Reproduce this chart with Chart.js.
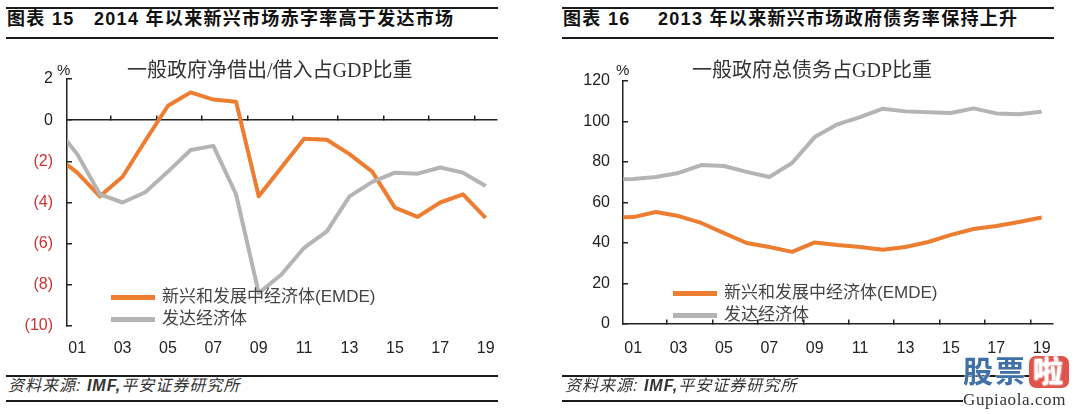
<!DOCTYPE html>
<html>
<head>
<meta charset="utf-8">
<script src="https://cdn.jsdelivr.net/npm/chart.js@4.4.1/dist/chart.umd.min.js"></script>
<style>
  html, body { margin: 0; padding: 0; background: #fff; }
  body { width: 1080px; height: 414px; position: relative; overflow: hidden;
         font-family: "Liberation Sans", "Noto Sans CJK SC", sans-serif; color: #222; }
  canvas { position: absolute; }
  .rule { position: absolute; background: #1b1b1b; }
  .head { position: absolute; top: 8px; line-height: 22px; font-size: 18px; font-weight: bold;
          letter-spacing: 1.3px; color: #111; white-space: nowrap; }
  .sub { position: absolute; top: 58px; line-height: 24px; font-size: 20px; color: #333; white-space: nowrap;
         font-family: "Liberation Serif", "Noto Sans CJK SC", serif; }
  .pct { position: absolute; top: 61px; line-height: 18px; font-size: 15px; color: #222; }
  .src { position: absolute; top: 377px; line-height: 17px; font-size: 16px; font-style: italic;
         letter-spacing: 1px; color: #333; white-space: nowrap; }
  .src b { font-weight: bold; }
  .leg { position: absolute; font-size: 17px; color: #444; white-space: nowrap; }
  .leg div { position: relative; height: 22px; line-height: 22px; }
  .leg span.sw { position: absolute; top: 9px; height: 5px; }
  .leg span.tx { position: absolute; }
  .wm { position: absolute; left: 963px; top: 356px; width: 117px; }
  .wm .big { font-size: 30px; font-weight: bold; color: #3f70a8; line-height: 32px; height: 34px;
             text-shadow: 0 0 2px #fff, 0 0 2px #fff; letter-spacing: 2px; white-space: nowrap; }
  .wm .la { display: inline-block; background: #e0534b; color: #fff; border-radius: 7px;
            padding: 0 4px; margin-left: 2px; line-height: 32px; }
  .wm .url { font-family: "Liberation Serif", serif; font-size: 17px; color: #333; line-height: 20px;
             letter-spacing: 0.6px; background: #fff; white-space: nowrap; }
</style>
</head>
<body>

<!-- 左图 -->
<div class="rule" style="left:6px;top:7px;width:492px;height:2px"></div>
<div class="head" style="left:7px">图表 15</div>
<div class="head" style="left:94px">2014 年以来新兴市场赤字率高于发达市场</div>
<div class="rule" style="left:6px;top:37px;width:492px;height:1.5px"></div>
<canvas id="balance" width="540" height="330" style="left:0;top:40px"></canvas>
<div class="sub" style="left:127px">一般政府净借出/借入占GDP比重</div>
<div class="pct" style="left:57px">%</div>
<div class="leg" id="legLeft" style="left:111px;top:286px"></div>
<div class="rule" style="left:6px;top:375px;width:492px;height:2px"></div>
<div class="src" style="left:8px">资料来源: <b>IMF,</b>平安证券研究所</div>
<div class="rule" style="left:6px;top:400px;width:492px;height:2px"></div>

<!-- 右图 -->
<div class="rule" style="left:562px;top:7px;width:492px;height:2px"></div>
<div class="head" style="left:563px">图表 16</div>
<div class="head" style="left:658px">2013 年以来新兴市场政府债务率保持上升</div>
<div class="rule" style="left:562px;top:37px;width:492px;height:1.5px"></div>
<canvas id="debt" width="540" height="330" style="left:540px;top:40px"></canvas>
<div class="sub" style="left:692px">一般政府总债务占GDP比重</div>
<div class="pct" style="left:616px">%</div>
<div class="leg" id="legRight" style="left:673px;top:282px"></div>
<div class="rule" style="left:562px;top:375px;width:492px;height:2px"></div>
<div class="src" style="left:565px">资料来源: <b>IMF,</b>平安证券研究所</div>
<div class="rule" style="left:562px;top:400px;width:492px;height:2px"></div>

<div class="wm">
  <div class="big">股票<span class="la">啦</span></div>
  <div class="url">Gupiaola.com</div>
</div>

<script>
// 年份 (2000-2019)
const years = [2000, 2001, 2002, 2003, 2004, 2005, 2006, 2007, 2008, 2009,
               2010, 2011, 2012, 2013, 2014, 2015, 2016, 2017, 2018, 2019];
const xLabelYears = [2001, 2003, 2005, 2007, 2009, 2011, 2013, 2015, 2017, 2019];
const seriesNames = ["新兴和发展中经济体(EMDE)", "发达经济体"];

// 图表15：一般政府净借出/借入占GDP比重 (%)
const balanceEMDE = [-1.7, -2.55, -3.7, -2.75, -1.0, 0.7, 1.35, 1.0, 0.9, -3.7,
                     -2.3, -0.9, -0.95, -1.65, -2.5, -4.25, -4.7, -4.0, -3.6, -4.75];
const balanceAdv  = [-0.25, -1.65, -3.6, -4.0, -3.5, -2.5, -1.45, -1.25, -3.6, -8.4,
                     -7.5, -6.2, -5.4, -3.7, -3.0, -2.55, -2.6, -2.3, -2.55, -3.2];

// 图表16：一般政府总债务占GDP比重 (%)
const debtEMDE = [52.5, 52.8, 55.3, 53.3, 49.9, 44.9, 40.0, 38.0, 35.6, 40.3,
                  39.0, 38.0, 36.7, 38.0, 40.5, 44.0, 46.9, 48.4, 50.4, 52.6];
const debtAdv  = [71.3, 71.6, 72.6, 74.6, 78.5, 78.0, 75.1, 72.6, 79.5, 92.3,
                  98.6, 102.2, 106.3, 105.0, 104.6, 104.2, 106.5, 104.0, 103.6, 104.8];

const ORANGE = "#ed7d31";
const GREY = "#b4b4b4";
const RED = "#cc3333";
const AXIS = "#222";
const FONT = "'Liberation Sans', 'Noto Sans CJK SC', sans-serif";

// 分类轴的起止与每两年一个刻度线（落在类别之间）
const X_MIN = 2000.55;
const X_MAX = 2019.5;
const xBoundaries = xLabelYears.slice(0, -1).map(y => y + 1.5);

function toPoints(vals) {
  return years.map((yr, i) => ({ x: yr, y: vals[i] }));
}

function buildChart(id, cfg) {
  return new Chart(document.getElementById(id), {
    type: "line",
    data: {
      datasets: [
        { label: seriesNames[0], data: toPoints(cfg.emde), borderColor: ORANGE, order: 1 },
        { label: seriesNames[1], data: toPoints(cfg.adv), borderColor: GREY, order: 0 }
      ]
    },
    options: {
      responsive: false,
      animation: false,
      devicePixelRatio: 1,
      layout: { padding: { left: 0, right: cfg.padRight, top: cfg.padTop, bottom: 0 } },
      plugins: { legend: { display: false }, tooltip: { enabled: false } },
      datasets: { line: { clip: { left: 0, right: 0, top: 5, bottom: 5 } } },
      elements: {
        point: { radius: 0 },
        line: { borderWidth: 4, tension: 0, borderJoinStyle: "round", borderCapStyle: "butt" }
      },
      scales: {
        x: {
          type: "linear",
          position: "bottom",
          min: X_MIN,
          max: X_MAX,
          grid: { display: false },
          border: { display: false },
          afterBuildTicks: ax => { ax.ticks = xLabelYears.map(v => ({ value: v })); },
          ticks: {
            autoSkip: false,
            maxRotation: 0,
            padding: cfg.xPad,
            color: AXIS,
            font: { family: FONT, size: 16 },
            callback: v => String(v).slice(2)
          },
          afterFit: s => { s.height = cfg.xAxisH; }
        },
        xLine: {
          type: "linear",
          axis: "x",
          position: { y: cfg.axisAt },
          min: X_MIN,
          max: X_MAX,
          grid: { drawOnChartArea: false, tickLength: -5, color: AXIS, lineWidth: 1.5 },
          border: { color: AXIS, width: 1.5 },
          ticks: { display: false },
          afterBuildTicks: ax => { ax.ticks = xBoundaries.map(v => ({ value: v })); }
        },
        y: {
          min: cfg.yMin,
          max: cfg.yMax,
          grid: { drawOnChartArea: false, tickLength: -5, color: AXIS, lineWidth: 1.5 },
          border: { color: AXIS, width: 1.5 },
          ticks: {
            stepSize: cfg.yStep,
            padding: cfg.yPad,
            font: { family: FONT, size: 16 },
            color: ctx => (ctx.tick && ctx.tick.value < 0 ? RED : AXIS),
            callback: v => (v < 0 ? "(" + (-v) + ")" : String(v))
          },
          afterFit: s => { s.width = cfg.yAxisW; }
        }
      }
    }
  });
}

function buildLegend(elId, chart) {
  const box = document.getElementById(elId);
  chart.data.datasets.forEach(ds => {
    const row = document.createElement("div");
    row.innerHTML = '<span class="sw" style="left:0;width:44px;background:' + ds.borderColor +
      '"></span><span class="tx" style="left:51px">' + ds.label + "</span>";
    box.appendChild(row);
  });
}

const balanceChart = buildChart("balance", {
  emde: balanceEMDE, adv: balanceAdv,
  yMin: -10, yMax: 2, yStep: 2, axisAt: 0,
  padRight: 43, padTop: 39, yAxisW: 67, xAxisH: 44, yPad: 19, xPad: 5
});

const debtChart = buildChart("debt", {
  emde: debtEMDE, adv: debtAdv,
  yMin: 0, yMax: 120, yStep: 20, axisAt: 0,
  padRight: 27, padTop: 41, yAxisW: 83, xAxisH: 46, yPad: 18, xPad: 7
});

buildLegend("legLeft", balanceChart);
buildLegend("legRight", debtChart);
</script>
</body>
</html>
